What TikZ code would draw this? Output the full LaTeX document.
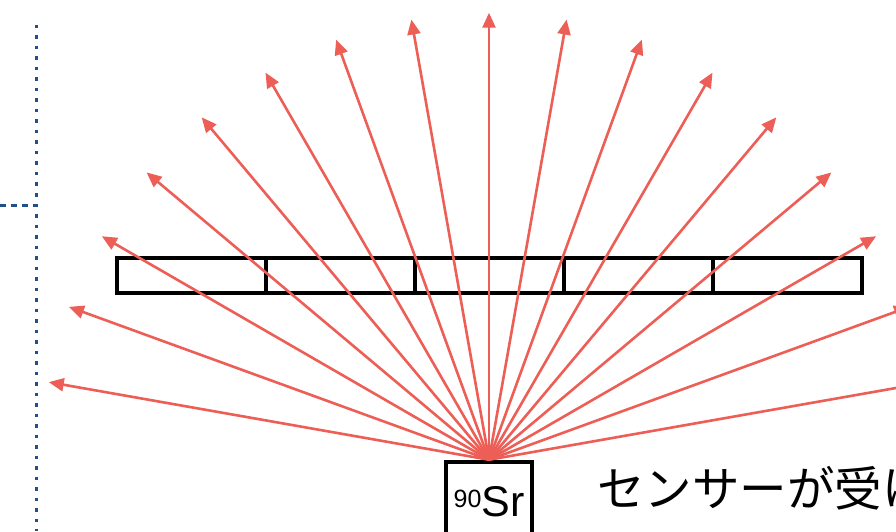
\documentclass[tikz,border=0pt]{standalone}
\usepackage{fontspec}
\usepackage{xcolor}
\usetikzlibrary{arrows.meta,positioning}
\newfontfamily\labelfont{Liberation Sans}
\newfontfamily\jpfont{Noto Sans CJK JP}
\definecolor{rayred}{RGB}{236,94,86}
\definecolor{guideblue}{RGB}{31,80,140}

\begin{document}
\begin{tikzpicture}[
    x=1pt,y=1pt,
    cell/.style={rectangle,draw=black,line width=4.5pt,inner sep=0pt,
      minimum width=149pt,minimum height=35pt},
    srcbox/.style={rectangle,draw=black,line width=4.5pt,inner sep=0pt,
      minimum width=86pt,minimum height=80pt,font=\labelfont\fontsize{43}{45}\selectfont},
    ray/.style={draw=rayred,line width=2.6pt,-{Triangle[length=15pt,width=13pt]}},
    guide/.style={draw=guideblue,line width=3pt,dash pattern=on 3.5pt off 7pt},
    note/.style={anchor=west,inner sep=0pt,font=\jpfont\fontsize{47.5}{50}\selectfont}
  ]
    \useasboundingbox (0,0) rectangle (896,531);

    % guide lines on the left
    \draw[guide] (36,506) -- (36,0);
    \draw[guide,dash pattern=on 6pt off 5pt] (0,326) -- (36,326);

    % sensor strip
    \foreach \i in {0,...,4}
      \node[cell] (cell\i) at ({191.5+149*\i},255.5) {};

    % source
    \node[srcbox] (src) at (489,29) {\raisebox{9pt}{\fontsize{25}{25}\selectfont 90}Sr};

    \foreach \a in {10,20,...,170}
      \draw[ray] (src.north) -- ++(\a:447);

    \node[note] (caption) at (597,43) {センサーが受け};
  \end{tikzpicture}
\end{document}
